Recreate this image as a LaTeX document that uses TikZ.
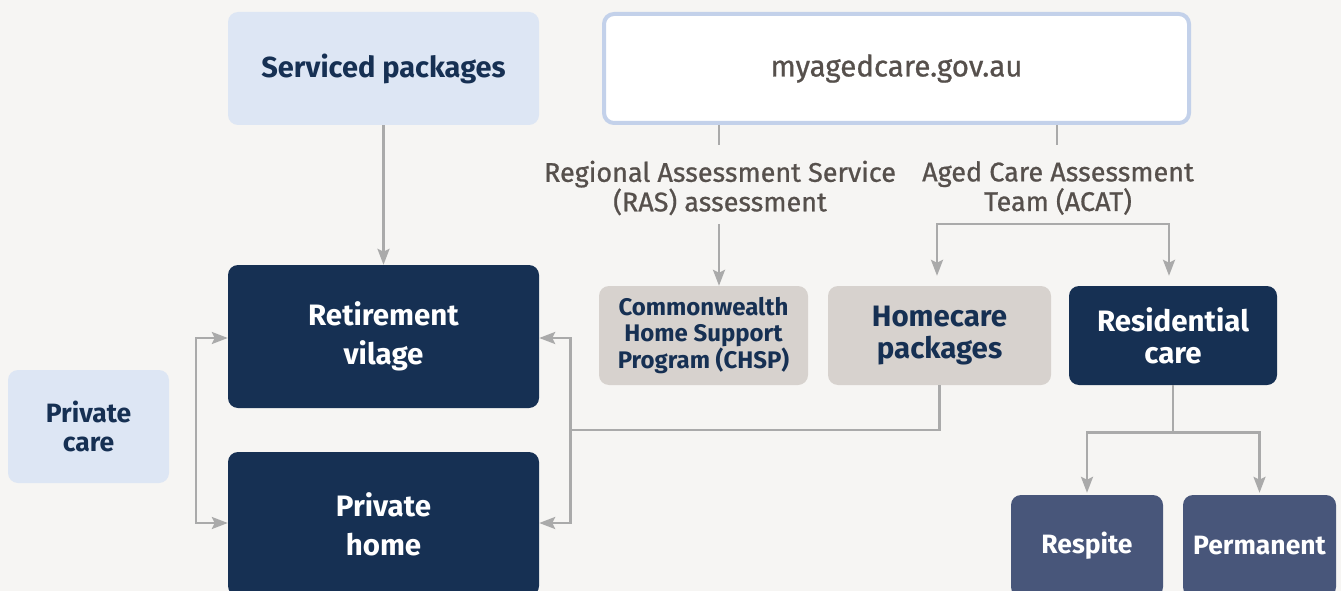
\documentclass[tikz,border=0pt]{standalone}
\usepackage{fontspec}
\setmainfont{Fira Sans}
\newfontfamily\medfont[FakeBold=0.8]{Fira Sans}
\usetikzlibrary{arrows.meta}
\definecolor{bg}{HTML}{F6F5F3}
\definecolor{navy}{HTML}{163053}
\definecolor{slate}{HTML}{48567A}
\definecolor{lblue}{HTML}{DDE6F4}
\definecolor{bluebd}{HTML}{C3D1EA}
\definecolor{stone}{HTML}{D7D2CE}
\definecolor{conn}{HTML}{AAAAAA}
\definecolor{lbl}{HTML}{56504C}
\tikzset{
  box/.style={rounded corners=10pt, inner sep=0pt, align=center, font=\bfseries\fontsize{29.5}{39}\selectfont},
  lightbox/.style={box, fill=lblue, text=navy},
  stonebox/.style={box, fill=stone, text=navy},
  navybox/.style={box, fill=navy, text=white},
  slatebox/.style={box, fill=slate, text=white},
  label/.style={align=center, text=lbl, font=\medfont\fontsize{27}{28.5}\selectfont},
  conline/.style={draw=conn, line width=2.6pt},
  tip/.style={conline, -{Stealth[length=16pt,width=12pt,inset=3pt]}},
  tips/.style={conline, {Stealth[length=16pt,width=12pt,inset=3pt]}-{Stealth[length=16pt,width=12pt,inset=3pt]}}
}
\begin{document}
\begin{tikzpicture}[x=1pt,y=-1pt]
\useasboundingbox (0,0) rectangle (1341,591);
\clip (0,0) rectangle (1341,591);
\fill[bg] (0,0) rectangle (1341,591);

\node[lightbox, minimum width=311pt, minimum height=113pt, font=\bfseries\fontsize{29}{36}\selectfont] (sp) at (383.5,68.5) {Serviced packages};
\node[box, fill=white, draw=bluebd, line width=4pt, minimum width=585pt, minimum height=109pt, font=\medfont\fontsize{29.5}{36}\selectfont, text=lbl] (mac) at (896.5,68.5) {myagedcare.gov.au};

\node[label] (ras) at (720,188) {Regional Assessment Service\\(RAS) assessment};
\node[label] (acat) at (1058,188) {Aged Care Assessment\\Team (ACAT)};

\node[stonebox, minimum width=209pt, minimum height=99pt, font=\bfseries\fontsize{24}{26.5}\selectfont] (chsp) at (703.5,335.5) {Commonwealth\\Home Support\\Program (CHSP)};
\node[stonebox, minimum width=223pt, minimum height=99pt, font=\bfseries\fontsize{29.5}{32}\selectfont] (home) at (939.5,335.5) {Homecare\\packages};
\node[navybox, minimum width=208pt, minimum height=99pt, font=\bfseries\fontsize{29.5}{32}\selectfont] (res) at (1173,335.5) {Residential\\care};

\node[slatebox, minimum width=152pt, minimum height=102pt, font=\bfseries\fontsize{26.5}{30}\selectfont] (resp) at (1087,546) {Respite};
\node[slatebox, minimum width=153pt, minimum height=102pt, font=\bfseries\fontsize{26.5}{30}\selectfont] (perm) at (1259.5,546) {Permanent};

\node[navybox, minimum width=311pt, minimum height=143pt] (ret) at (383.5,336.5) {Retirement\\vilage};
\node[navybox, minimum width=311pt, minimum height=144pt] (ph) at (383.5,524) {Private\\home};
\node[lightbox, minimum width=161pt, minimum height=113pt, font=\bfseries\fontsize{26.5}{29}\selectfont] (pc) at (88.5,426.5) {Private\\care};

% connectors
\coordinate (rasT) at (719,145);
\coordinate (acatT) at (1057,145);
\coordinate (rasB) at (719,224);
\coordinate (acatL) at (937,224);
\coordinate (acatR) at (1169,224);
\coordinate (hj) at (570,430);

\draw[tip] (sp) -- (ret);
\draw[conline] (mac.south -| rasT) -- (rasT);
\draw[conline] (mac.south -| acatT) -- (acatT);
\draw[tip] (rasB) -- (rasB |- chsp.north);
\draw[tip] (acatR) -- (acatL) -- ([yshift=10pt]acatL |- home.north);
\draw[tip] (acatL) -- (acatR) -- ([yshift=10pt]acatR |- res.north);

\draw[conline] (res.south) -- ++(0,47) coordinate (rj);
\draw[tip] (rj) -| ([yshift=2pt]resp.north);
\draw[tip] (rj) -| ([yshift=2pt]perm.north);

\draw[tips] ([yshift=-1.5pt]ret.west) -- ++(-32,0) |- ([yshift=1pt]ph.west);
\draw[tips] ([yshift=-1.5pt]ret.east) -- ++(31,0) |- ([yshift=1pt]ph.east);
\draw[conline] (home.south) |- (hj);
\end{tikzpicture}
\end{document}
